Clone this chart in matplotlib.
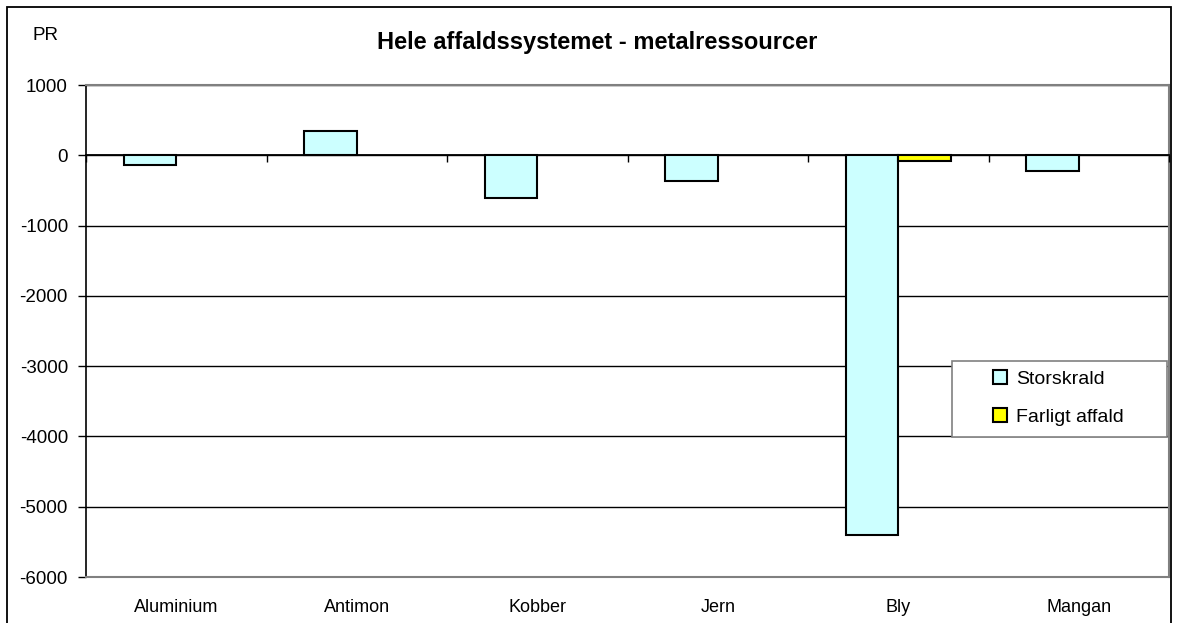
import matplotlib
matplotlib.use("Agg")
import matplotlib.pyplot as plt
import numpy as np
from matplotlib.patches import Rectangle

plt.rcParams['font.family'] = ['Liberation Sans', 'DejaVu Sans']

categories = ["Aluminium", "Antimon", "Kobber", "Jern", "Bly", "Mangan"]
storskrald = [-140, 350, -610, -370, -5400, -220]
farligt_affald = [np.nan, np.nan, np.nan, np.nan, -75, np.nan]
series_names = ["Storskrald", "Farligt affald"]
yticks = [1000, 0, -1000, -2000, -3000, -4000, -5000, -6000]
title = "Hele affaldssystemet - metalressourcer"
unit_label = "PR"

W, H = 1179, 623
fig = plt.figure(figsize=(W / 100, H / 100), dpi=100)
ax = fig.add_axes([86 / W, (H - 577) / H, (1169 - 86) / W, (577 - 85) / H])

x = np.arange(len(categories))
bw = 0.29
ax.bar(x - bw / 2, storskrald, bw, color="#CCFFFF", edgecolor="black", linewidth=1.5, zorder=3, label=series_names[0])
ax.bar(x + bw / 2, farligt_affald, bw, color="#FFFF00", edgecolor="black", linewidth=1.5, zorder=3, label=series_names[1])

ymin, ymax = min(yticks), max(yticks)
ax.set_ylim(ymin, ymax)
ax.set_xlim(-0.5, len(categories) - 0.5)
ax.set_yticks(yticks)
ax.set_yticklabels([str(v) for v in yticks], fontsize=13.5)
ax.yaxis.grid(True, color="black", linewidth=1.0, zorder=0)
ax.set_axisbelow(True)
ax.tick_params(axis="y", direction="out", length=6, width=1, pad=7)

ax.set_xticks(x)
ax.set_xticklabels(categories, fontsize=13)
ax.tick_params(axis="x", length=0, pad=16)

for s in ["top", "right", "bottom"]:
    ax.spines[s].set_color("#808080")
    ax.spines[s].set_linewidth(1.5)
    ax.spines[s].set_zorder(4)
ax.spines["left"].set_color("black")
ax.spines["left"].set_linewidth(1.2)

# zero axis with category boundary ticks
zero_pos = (0 - ymin) / (ymax - ymin)
sec = ax.secondary_xaxis(zero_pos)
sec.set_xticks(np.arange(len(categories) + 1) - 0.5)
sec.set_xticklabels([])
sec.tick_params(axis="x", direction="in", length=5, width=1, color="black")
sec.spines["top"].set_color("black")
sec.spines["top"].set_linewidth(1.3)
sec.spines["bottom"].set_visible(False)
sec.set_zorder(5)

fig.text(597 / W, 1 - 42 / H, title, fontsize=17, fontweight="bold", ha="center", va="center")
fig.text(32 / W, 1 - 35 / H, unit_label, fontsize=13.5, ha="left", va="center")

# legend frame (separate box) and frameless legend inside it
fig.add_artist(Rectangle((952 / W, 1 - 437 / H), (1167 - 952) / W, (437 - 361) / H,
                         transform=fig.transFigure, facecolor="white", edgecolor="#808080",
                         linewidth=1.2, zorder=5))
leg = ax.legend(loc="center left", bbox_to_anchor=(993 / W, 1 - 398 / H), bbox_transform=fig.transFigure,
                fontsize=14, frameon=False,
                handlelength=0.7, handleheight=0.7, handletextpad=0.5, borderpad=0,
                labelspacing=1.05, borderaxespad=0)
leg.set_zorder(6)
fig.add_artist(leg)

# outer chart border
fig.add_artist(Rectangle((7 / W, -0.05), (1171 - 7) / W, 1.05 - 7 / H, transform=fig.transFigure,
                         fill=False, edgecolor="black", linewidth=1.3))

fig.savefig("out.png", dpi=100)
